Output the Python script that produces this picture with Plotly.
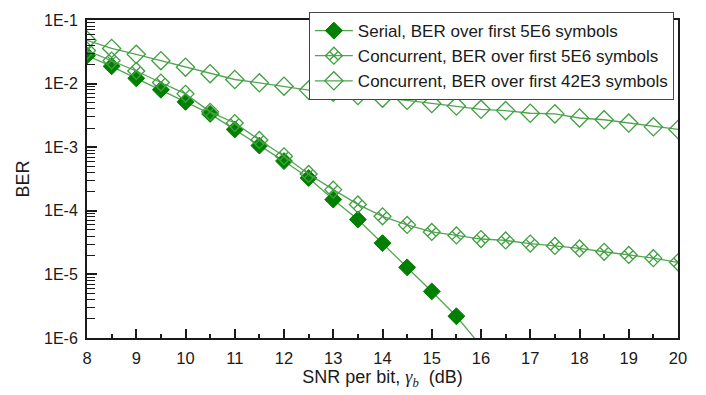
import plotly.graph_objects as go

# SNR per bit (dB)
snr_serial = [8, 8.5, 9, 9.5, 10, 10.5, 11, 11.5, 12, 12.5, 13, 13.5, 14, 14.5, 15, 15.5, 16]
ber_serial = [2.75e-2, 1.87e-2, 1.21e-2, 8.0e-3, 5.16e-3, 3.34e-3, 1.9e-3, 1.06e-3, 6.05e-4,
              3.28e-4, 1.5e-4, 7.3e-5, 3.1e-5, 1.29e-5, 5.4e-6, 2.2e-6, 7.5e-7]

snr_conc = [8, 8.5, 9, 9.5, 10, 10.5, 11, 11.5, 12, 12.5, 13, 13.5, 14, 14.5, 15, 15.5,
            16, 16.5, 17, 17.5, 18, 18.5, 19, 19.5, 20]
ber_conc_5e6 = [3.3e-2, 2.3e-2, 1.58e-2, 1.04e-2, 6.9e-3, 3.6e-3, 2.4e-3, 1.3e-3, 7.2e-4,
                3.8e-4, 2.15e-4, 1.26e-4, 8.2e-5, 6.0e-5, 4.65e-5, 4.1e-5, 3.6e-5, 3.42e-5,
                3.05e-5, 2.8e-5, 2.56e-5, 2.27e-5, 2.02e-5, 1.8e-5, 1.55e-5]
ber_conc_42e3 = [4.8e-2, 3.57e-2, 2.89e-2, 2.29e-2, 1.81e-2, 1.43e-2, 1.16e-2, 1.03e-2, 9.1e-3,
                 7.9e-3, 7.3e-3, 6.5e-3, 5.9e-3, 5.46e-3, 4.86e-3, 4.43e-3, 3.94e-3, 3.76e-3,
                 3.42e-3, 3.34e-3, 2.88e-3, 2.7e-3, 2.4e-3, 2.09e-3, 1.9e-3]

names = ["Serial, BER over first 5E6 symbols",
         "Concurrent, BER over first 5E6 symbols",
         "Concurrent, BER over first 42E3 symbols"]

y_tickvals = [1e-6, 1e-5, 1e-4, 1e-3, 1e-2, 1e-1]
y_ticktext = ["1E-6", "1E-5", "1E-4", "1E-3", "1E-2", "1E-1"]
x_tickvals = list(range(8, 21))

line_green = "#52a552"
dark_green = "#008000"

fig = go.Figure()
fig.add_trace(go.Scatter(
    x=snr_serial, y=ber_serial, name=names[0], mode="lines+markers",
    line=dict(color=line_green, width=1.3),
    marker=dict(symbol="diamond", size=13, color=dark_green, line=dict(color=dark_green, width=1)),
))
fig.add_trace(go.Scatter(
    x=snr_conc, y=ber_conc_5e6, name=names[1], mode="lines+markers",
    line=dict(color=line_green, width=1.3),
    marker=dict(symbol="diamond-x-open", size=13, color="#3f9f3f", line=dict(color="#3f9f3f", width=1.3)),
))
fig.add_trace(go.Scatter(
    x=snr_conc, y=ber_conc_42e3, name=names[2], mode="lines+markers",
    line=dict(color=line_green, width=1.3),
    marker=dict(symbol="diamond-open", size=14, color="#3f9f3f", line=dict(color="#3f9f3f", width=1.3)),
))

minor_y = [m * 10.0 ** e for e in range(-6, -1) for m in range(2, 10)]

font_family = "Arial, Liberation Sans, sans-serif"
fig.update_layout(
    width=706, height=395,
    margin=dict(l=87, r=28, t=14, b=53),
    paper_bgcolor="white", plot_bgcolor="white",
    font=dict(family=font_family, size=16, color="#1a1a1a"),
    showlegend=True,
    legend=dict(
        x=0.993, y=1.025, xanchor="right", yanchor="top",
        bgcolor="white", bordercolor="#444444", borderwidth=1,
        font=dict(size=17, family=font_family, color="#1a1a1a"),
        tracegroupgap=0, itemwidth=38,
    ),
    xaxis=dict(
        range=[8, 20], tickvals=x_tickvals, ticks="inside", ticklen=9, tickwidth=1.5,
        tickcolor="#1a1a1a", showline=True, linecolor="#1a1a1a", linewidth=2, mirror=True,
        showgrid=False, zeroline=False, ticklabelstandoff=4,
        tickfont=dict(size=16.5),
        minor=dict(tickvals=[x + 0.5 for x in range(8, 20)], ticks="inside", ticklen=4,
                   tickwidth=1.5, tickcolor="#1a1a1a", showgrid=False),
        title=dict(text="SNR per bit, <span style=\"font-family:'Liberation Serif', 'Times New Roman', serif\"><i>γ<sub>b</sub></i></span>  (dB)",
                   font=dict(size=18), standoff=4),
    ),
    yaxis=dict(
        type="log", range=[-6, -1], tickvals=y_tickvals, ticktext=y_ticktext,
        ticks="inside", ticklen=10, tickwidth=2, tickcolor="#1a1a1a",
        showline=True, linecolor="#1a1a1a", linewidth=2, mirror=True,
        showgrid=False, zeroline=False, tickfont=dict(size=16), ticklabelstandoff=4,
        minor=dict(tickvals=minor_y, ticks="inside", ticklen=8, tickwidth=1.2,
                   tickcolor="#1a1a1a", showgrid=False),
        title=dict(text="BER", font=dict(size=18), standoff=10),
    ),
)

fig.write_html("out.html")
